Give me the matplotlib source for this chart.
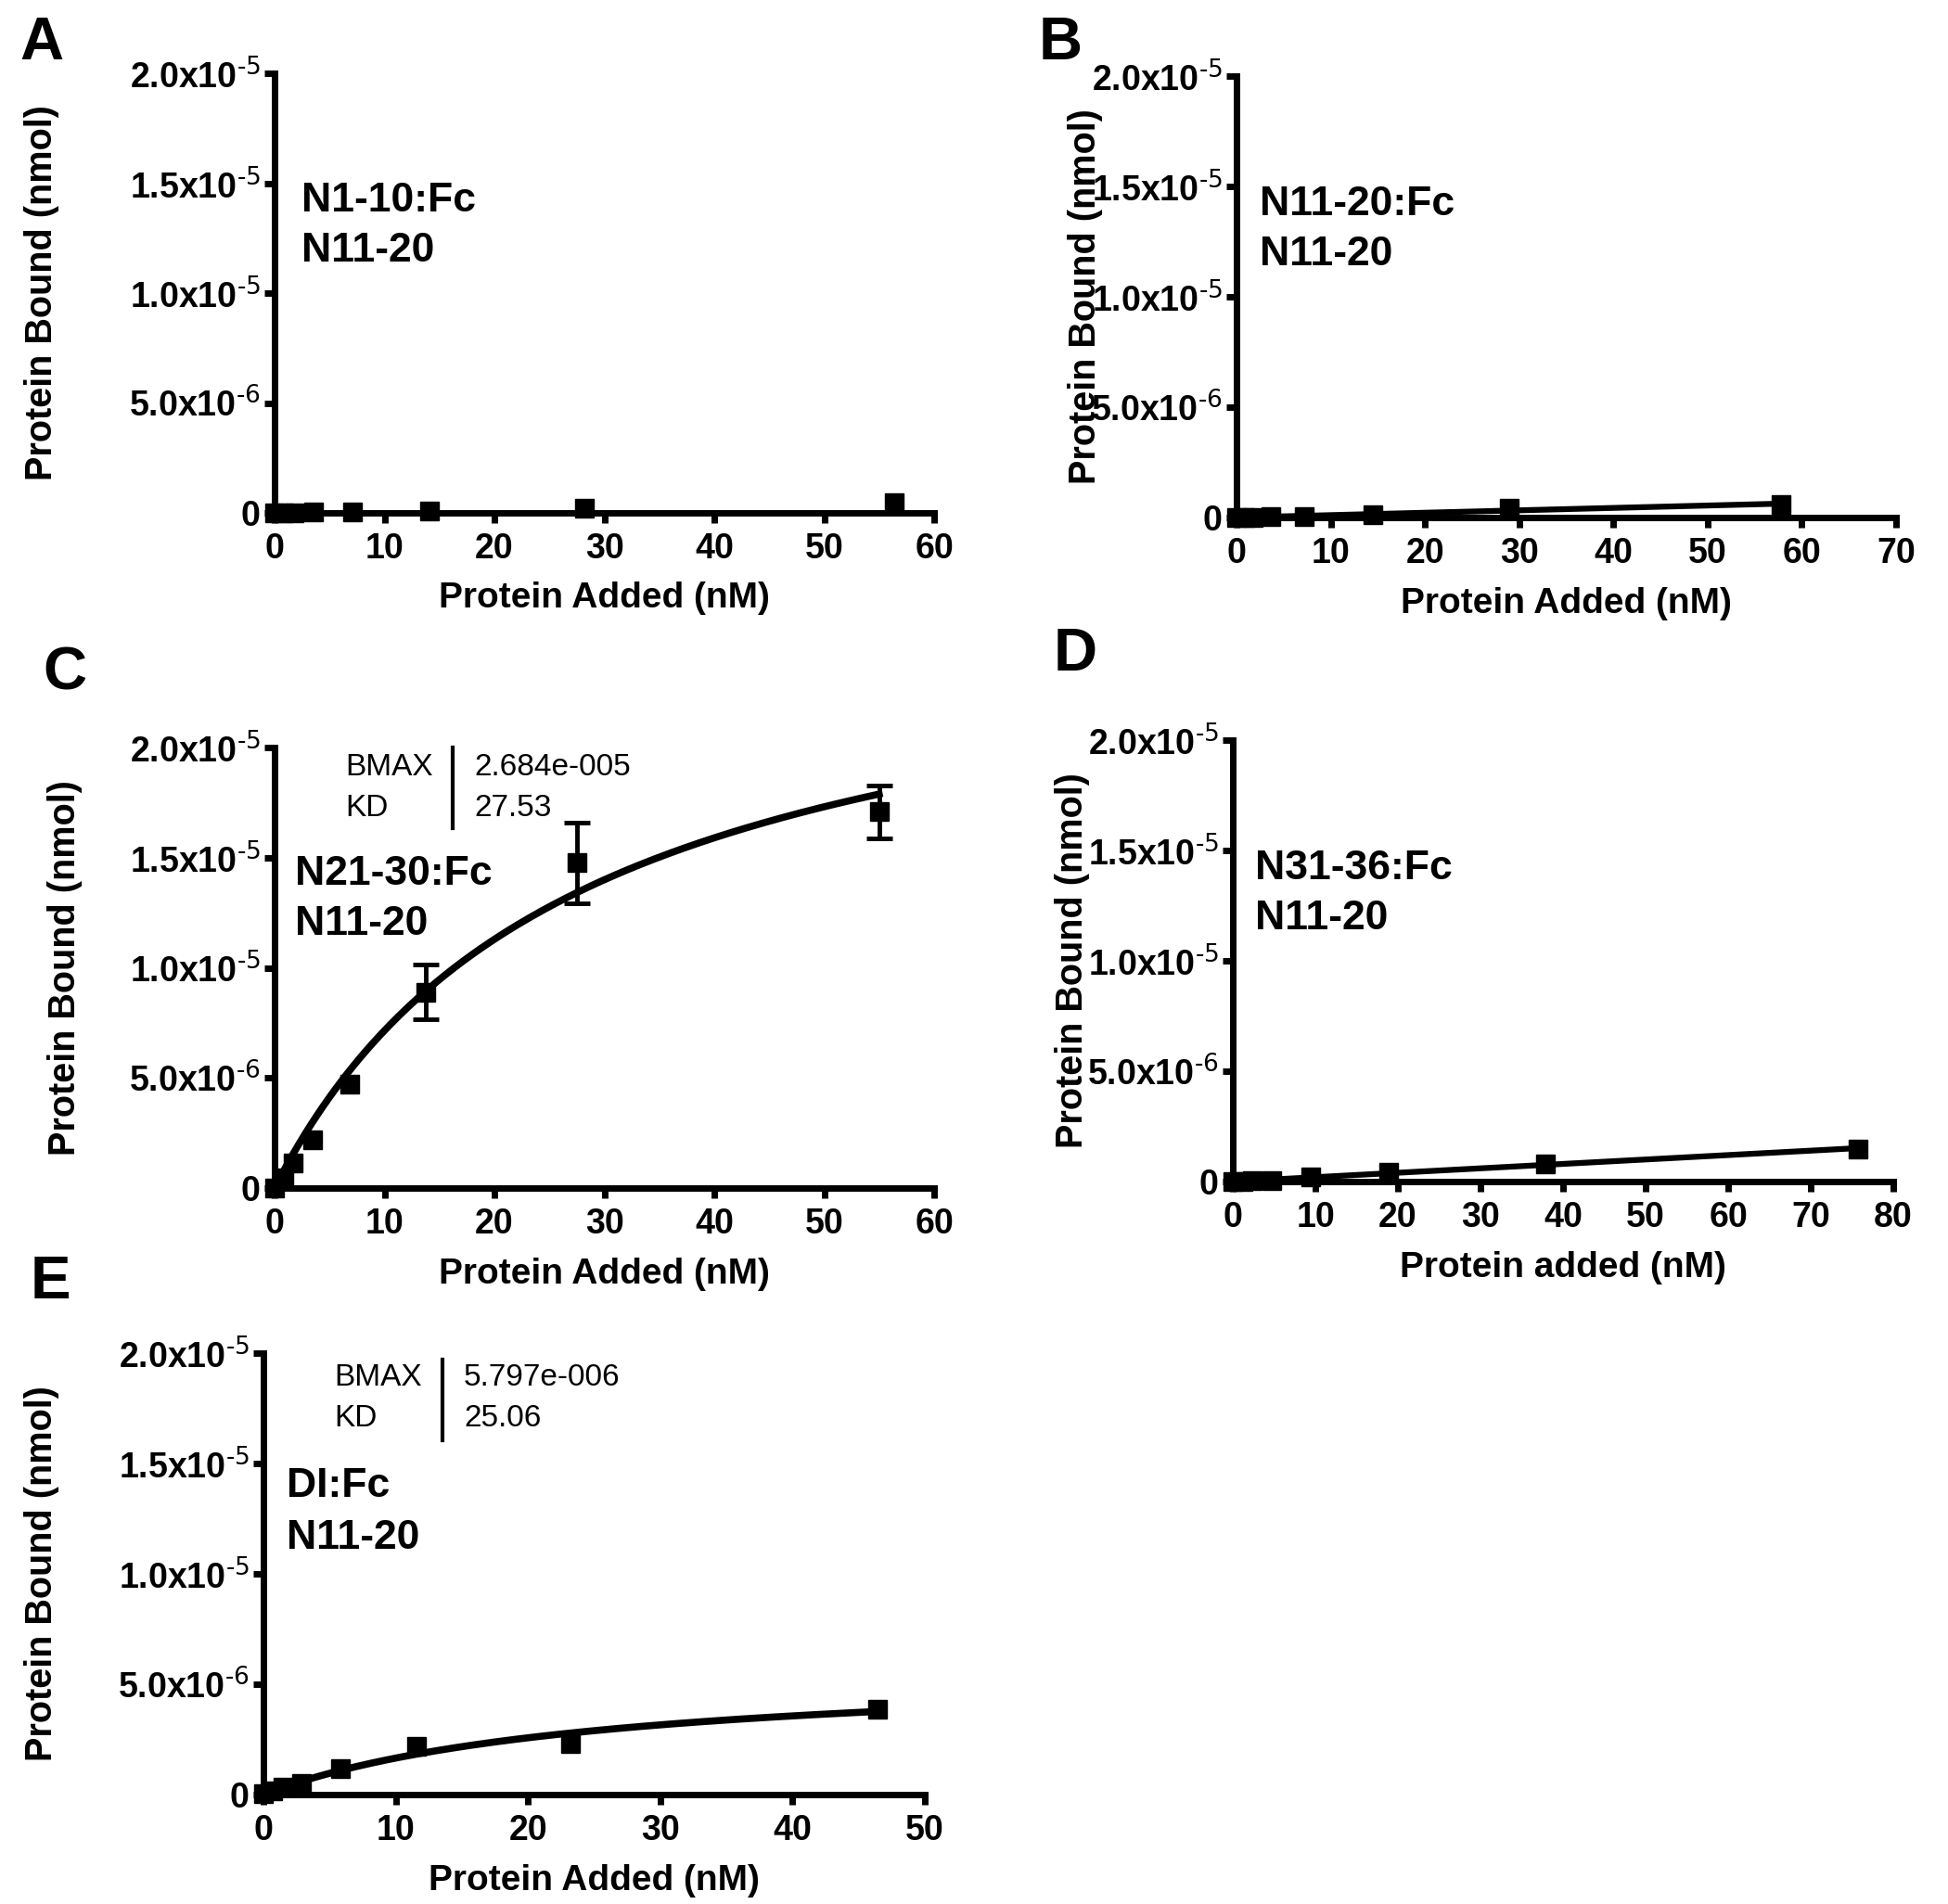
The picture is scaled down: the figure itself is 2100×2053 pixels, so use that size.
import numpy as np
import matplotlib
matplotlib.use("Agg")
import matplotlib.pyplot as plt
from matplotlib.lines import Line2D

plt.rcParams['font.family'] = ['Liberation Sans', 'DejaVu Sans']
plt.rcParams['mathtext.default'] = 'regular'

W, H = 2100, 2053

# values (x in nM, y in nmol)
a_x = [0, 0.88, 1.76, 3.52, 7.05, 14.1, 28.2, 56.4]
a_y = [0, 0.01e-6, 0.02e-6, 0.03e-6, 0.04e-6, 0.09e-6, 0.22e-6, 0.46e-6]

b_x = [0, 0.9, 1.8, 3.6, 7.2, 14.45, 28.9, 57.8]
b_y = [0, 0.01e-6, 0.02e-6, 0.03e-6, 0.05e-6, 0.13e-6, 0.41e-6, 0.59e-6]

c_x = [0, 0.86, 1.72, 3.44, 6.87, 13.75, 27.5, 55.0]
c_y = [0, 0.45e-6, 1.13e-6, 2.17e-6, 4.72e-6, 8.9e-6, 14.77e-6, 17.08e-6]
c_err = [0, 0, 0, 0, 0, 1.23e-6, 1.84e-6, 1.21e-6]
c_bmax, c_kd = 2.684e-5, 27.53

d_x = [0, 1.18, 2.37, 4.73, 9.46, 18.9, 37.85, 75.7]
d_y = [0, 0.01e-6, 0.03e-6, 0.06e-6, 0.19e-6, 0.43e-6, 0.78e-6, 1.49e-6]

e_x = [0, 0.72, 1.45, 2.9, 5.8, 11.6, 23.2, 46.4]
e_y = [0.05e-6, 0.15e-6, 0.33e-6, 0.51e-6, 1.16e-6, 2.17e-6, 2.30e-6, 3.88e-6]
e_err = [0, 0, 0, 0, 0, 0.3e-6, 0.4e-6, 0]
e_bmax, e_kd = 5.797e-6, 25.06

y_ticks = [0, 5e-6, 1e-5, 1.5e-5, 2e-5]
y_ticklabels = ['0', r'5.0x10$^{\text{-6}}$', r'1.0x10$^{\text{-5}}$',
                r'1.5x10$^{\text{-5}}$', r'2.0x10$^{\text{-5}}$']

fig = plt.figure(figsize=(W / 100, H / 100), dpi=100)


def fx(x):
    return x / W


def fy(y):
    return 1 - y / H


def make_axes(left, top, right, bottom, xmax, xstep, xlabel, ylab_x):
    ax = fig.add_axes([fx(left), fy(bottom), (right - left) / W, (bottom - top) / H])
    ax.set_xlim(0, xmax)
    ax.set_ylim(0, 2e-5)
    for s in ['top', 'right']:
        ax.spines[s].set_visible(False)
    for s in ['left', 'bottom']:
        ax.spines[s].set_linewidth(5)
        ax.spines[s].set_capstyle('projecting')
    ax.set_xticks(np.arange(0, xmax + 1, xstep))
    ax.set_yticks(y_ticks)
    ax.set_yticklabels(y_ticklabels)
    ax.tick_params(width=5, length=8, labelsize=27)
    ax.tick_params(axis='x', pad=7)
    ax.tick_params(axis='y', pad=3)
    for lab in ax.get_xticklabels() + ax.get_yticklabels():
        lab.set_fontweight('bold')
    ax.set_xlabel(xlabel, fontsize=28, fontweight='bold', va='center')
    ax.xaxis.set_label_coords(0.5, -0.195)
    ax.set_ylabel('Protein Bound (nmol)', fontsize=28.5, fontweight='bold', va='center')
    ax.yaxis.set_label_coords((ylab_x - left) / (right - left), 0.5)
    return ax


def points(ax, x, y, err=None, capsize=10):
    ax.plot(x, y, 's', color='black', markersize=14, clip_on=False, zorder=4)
    if err is not None:
        # only the points whose bars reach past the marker
        idx = [i for i, e in enumerate(err) if e > 0]
        ax.errorbar([x[i] for i in idx], [y[i] for i in idx], yerr=[err[i] for i in idx],
                    fmt='none', ecolor='black', elinewidth=3.5, capsize=capsize,
                    capthick=3.5, clip_on=False, zorder=4)


def linear_fit(ax, x, y):
    k, b = np.polyfit(x, y, 1)
    xs = np.array([0, max(x)])
    ax.plot(xs, k * xs + b, color='black', lw=4.5, clip_on=False, zorder=3)


def hyperbola(ax, x, bmax, kd):
    xs = np.linspace(0, max(x), 200)
    ax.plot(xs, bmax * xs / (kd + xs), color='black', lw=5.5, clip_on=False, zorder=3)


def label_pair(x, y1, y2, top):
    fig.text(fx(x), fy(y1), top, fontsize=32, fontweight='bold', va='center')
    fig.text(fx(x), fy(y2), 'N11-20', fontsize=32, fontweight='bold', va='center')


def fit_table(x, y1, y2, bar_x, bar_y0, bar_y1, val_x, bmax, kd):
    fig.text(fx(x), fy(y1), 'BMAX', fontsize=24, va='center')
    fig.text(fx(x), fy(y2), 'KD', fontsize=24, va='center')
    fig.text(fx(val_x), fy(y1), bmax, fontsize=24, va='center')
    fig.text(fx(val_x), fy(y2), kd, fontsize=24, va='center')
    fig.add_artist(Line2D([fx(bar_x), fx(bar_x)], [fy(bar_y0), fy(bar_y1)],
                          color='black', lw=3, transform=fig.transFigure))


# A
ax_a = make_axes(296, 79, 1007, 553, 60, 10, 'Protein Added (nM)', 45)
points(ax_a, a_x, a_y)
label_pair(325, 217, 271, 'N1-10:Fc')

# B
ax_b = make_axes(1333, 82, 2044, 558, 70, 10, 'Protein Added (nM)', 1170)
linear_fit(ax_b, b_x, b_y)
points(ax_b, b_x, b_y)
label_pair(1358, 220, 275, 'N11-20:Fc')

# C
ax_c = make_axes(296, 806, 1007, 1281, 60, 10, 'Protein Added (nM)', 70)
hyperbola(ax_c, c_x, c_bmax, c_kd)
points(ax_c, c_x, c_y, c_err)
label_pair(318, 942, 997, 'N21-30:Fc')
fit_table(372, 828, 871, 488, 806, 893, 511, '2.684e-005', '27.53')

# D
ax_d = make_axes(1329, 798, 2041, 1274, 80, 10, 'Protein added (nM)', 1156)
linear_fit(ax_d, d_x, d_y)
points(ax_d, d_x, d_y)
label_pair(1353, 936, 991, 'N31-36:Fc')

# E
ax_e = make_axes(284, 1459, 997, 1935, 50, 10, 'Protein Added (nM)', 45)
hyperbola(ax_e, e_x, e_bmax, e_kd)
points(ax_e, e_x, e_y, e_err, capsize=0)
label_pair(309, 1603, 1658, 'DI:Fc')
fit_table(360, 1486, 1529, 477, 1466, 1553, 500, '5.797e-006', '25.06')

# panel letters
for letter, x, y in [('A', 45, 47), ('B', 1143, 47), ('C', 70, 726), ('D', 1159, 706), ('E', 54, 1383)]:
    fig.text(fx(x), fy(y), letter, fontsize=47, fontweight='bold', ha='center', va='center')

fig.savefig('out.png', dpi=100)
